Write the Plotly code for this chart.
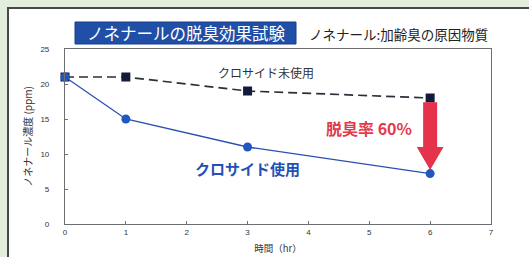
import plotly.graph_objects as go

hours = [0, 1, 3, 6]
not_used = [21, 21, 19, 18]
used = [21, 15, 11, 7.2]
x_ticks = [0, 1, 2, 3, 4, 5, 6, 7]
y_ticks = [0, 5, 10, 15, 20, 25]

title_text = "ノネナールの脱臭効果試験"
subtitle_text = "ノネナール:加齢臭の原因物質"
label_not_used = "クロサイド未使用"
label_used = "クロサイド使用"
rate_text = "脱臭率 60%"

FONT = "Noto Sans CJK JP"
W, H = 529, 257
L, R, T, B = 65, 38, 49, 33
pw, ph = W - L - R, H - T - B


def px(xp):
    return (xp - L) / pw


def py(yp):
    return (H - B - yp) / ph


fig = go.Figure()

fig.add_trace(go.Scatter(
    x=hours, y=not_used, mode="lines+markers",
    line=dict(color="#2b2f3a", width=1.7, dash="9px,5px"),
    marker=dict(symbol="square", size=9, color="#141a3a"),
    showlegend=False, cliponaxis=False))
fig.add_trace(go.Scatter(
    x=hours, y=used, mode="lines+markers",
    line=dict(color="#2a4fb0", width=1.3),
    marker=dict(symbol="circle", size=9, color="#2357c0"),
    showlegend=False, cliponaxis=False))

# red arrow computed from the last data values
xa = hours[-1]
top = not_used[-1] - 0.6
tip = used[-1] + 0.5
base = tip + 3.3
sw, hw = 0.115, 0.22
path = (f"M {xa-sw},{top} L {xa+sw},{top} L {xa+sw},{base} L {xa+hw},{base} "
        f"L {xa},{tip} L {xa-hw},{base} L {xa-sw},{base} Z")
fig.add_shape(type="path", path=path, xref="x", yref="y",
              fillcolor="#e5334b", line=dict(width=0), layer="above")

# outer panel
fig.add_shape(type="rect", xref="paper", yref="paper",
              x0=px(8), x1=px(W + 20), y0=py(H + 20), y1=py(8),
              fillcolor="white", line=dict(color="#45484a", width=2), layer="below")
# title box
fig.add_shape(type="rect", xref="paper", yref="paper",
              x0=px(75), x1=px(296), y0=py(44), y1=py(22),
              fillcolor="#1f4fa6", line=dict(color="#1a3f8a", width=1), layer="above")

ann = dict(showarrow=False, xanchor="center", yanchor="middle")
fig.add_annotation(x=px(186), y=py(33), xref="paper", yref="paper",
                   text=title_text, font=dict(family=FONT, size=16.5, color="white"), **ann)
fig.add_annotation(x=px(398), y=py(34), xref="paper", yref="paper",
                   text=subtitle_text, font=dict(family=FONT, size=13.5, color="#222"), **ann)
fig.add_annotation(x=3.3, y=21.6, xref="x", yref="y", text=label_not_used,
                   font=dict(family=FONT, size=12, color="#333"), **ann)
fig.add_annotation(x=3.0, y=8.0, xref="x", yref="y", text=f"<b>{label_used}</b>",
                   font=dict(family=FONT, size=15, color="#2350b5"), **ann)
fig.add_annotation(x=5.0, y=13.7, xref="x", yref="y", text=f"<b>{rate_text}</b>",
                   font=dict(family=FONT, size=16, color="#e23a4e"), **ann)

axis_common = dict(showline=True, linecolor="#6b6e72", linewidth=1.2, mirror=True,
                   showgrid=False, zeroline=False, ticks="inside", ticklen=3, automargin=False,
                   tickcolor="#6b6e72", tickfont=dict(family="Liberation Sans", size=8, color="#333"))

fig.update_xaxes(range=[0, 7], tickvals=x_ticks, **axis_common,
                 title=dict(text="時間（hr）", font=dict(family=FONT, size=9.5, color="#333"), standoff=9))
fig.update_yaxes(range=[0, 25], tickvals=y_ticks, ticklabelstandoff=13, **axis_common,
                 title=dict(text="ノネナール濃度 (ppm)", font=dict(family=FONT, size=10, color="#333"), standoff=5))

fig.update_layout(width=W, height=H, margin=dict(l=L, r=R, t=T, b=B, autoexpand=False),
                  paper_bgcolor="#e3eedd", plot_bgcolor="white", showlegend=False)

fig.write_html("out.html", config={"displayModeBar": False},
               post_script="document.body.style.margin='0';document.body.style.overflow='hidden';")
